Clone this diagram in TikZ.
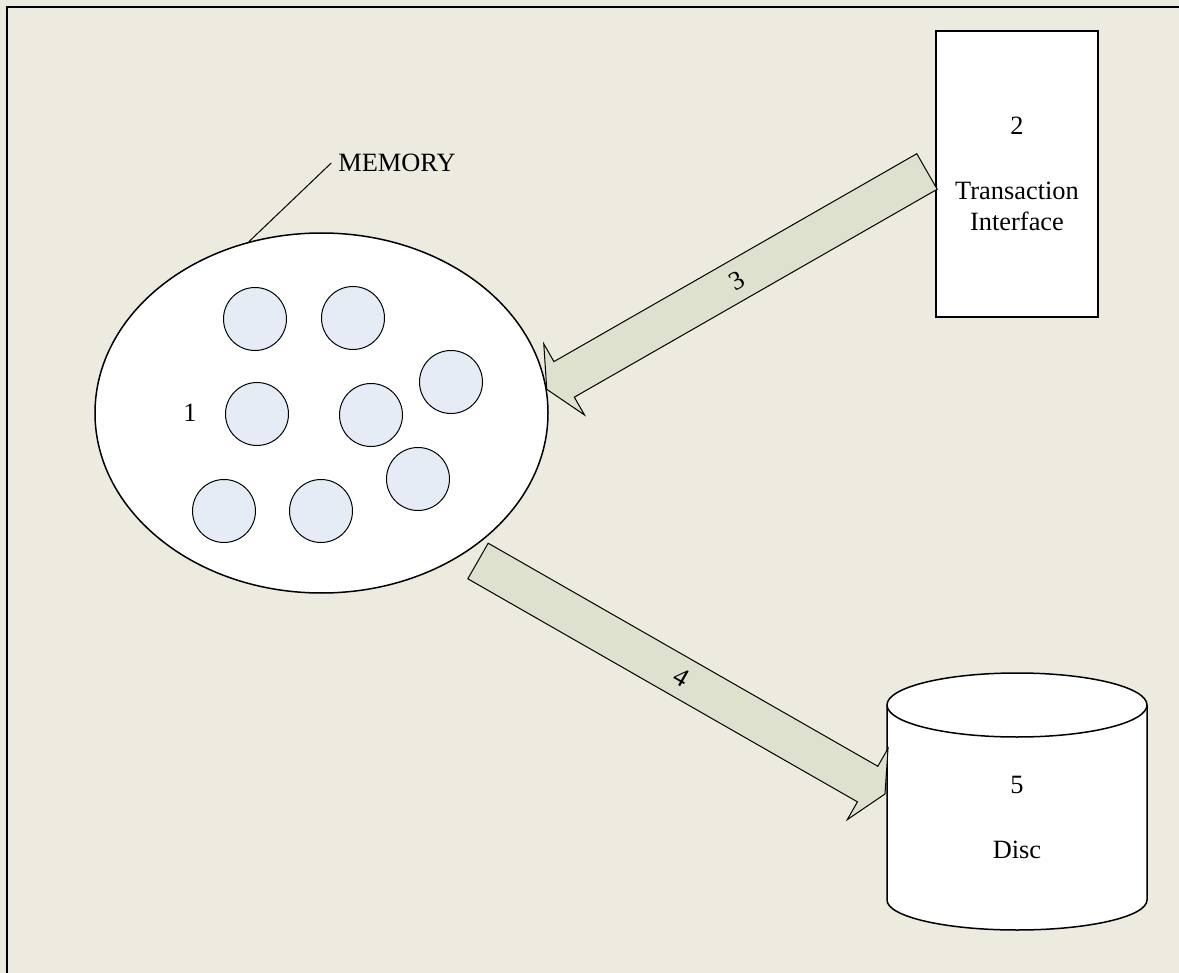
\documentclass[tikz,border=0pt]{standalone}
\usepackage{fontspec}
\setmainfont{Liberation Serif}
\usetikzlibrary{positioning,calc,shapes.geometric}
\definecolor{paper}{RGB}{237,234,224}
\definecolor{cellblue}{RGB}{230,236,246}
\definecolor{arrowgreen}{RGB}{221,225,205}

% fat block arrow: tail, tip, name of head base
\newcommand{\fatarrow}[3]{%
  \coordinate (#3) at ($(#2)!10pt!(#1)$);
  \draw[blockarrow] ($(#1)!10.25pt!90:(#2)$) -- ($(#3)!10.25pt!90:(#2)$)
    -- ($(#3)!20.5pt!90:(#2)$) -- (#2) -- ($(#3)!20.5pt!-90:(#2)$)
    -- ($(#3)!10.25pt!-90:(#2)$) -- ($(#1)!10.25pt!-90:(#2)$) -- cycle;}

\begin{document}
\begin{tikzpicture}[x=0.5pt, y=-0.5pt,
  every node/.style={font=\fontsize{13.2}{15.5}\selectfont},
  memory/.style={ellipse, draw, fill=white, line width=.75pt, inner sep=0pt, minimum width=226.5pt, minimum height=180pt},
  cell/.style={circle, draw, fill=cellblue, line width=.5pt, inner sep=0pt, minimum size=31.5pt},
  box/.style={draw, fill=white, line width=.75pt, align=center, minimum width=81pt, minimum height=143pt},
  blockarrow/.style={draw, fill=arrowgreen, line width=.5pt, line join=miter}]
\useasboundingbox (0,0) rectangle (1179,973);
\fill[paper] (0,0) rectangle (1179,973);
\draw[line width=1pt] (7,973) -- (7,7) -- (1179,7);

% memory with its cells
\node[memory] (memory) at (321.5,413) {};
\foreach \cx/\cy [count=\i] in {255/319, 353/318, 451/382, 257/414, 371/415, 418/479, 224/511, 321/511}
  \node[cell] (cell\i) at (\cx,\cy) {};
\node (one) at (190,413) {1};
\node (memlabel) at (397,163) {MEMORY};
\draw[line width=.5pt] (memlabel.west) -- (memory.113);

% transaction interface
\node[box] (trans) at (1017,174) {2\\[17pt]Transaction\\Interface};

% disc
\draw[fill=white, line width=.75pt] (887,705) -- (887,900)
  arc[start angle=180, end angle=0, x radius=130, y radius=30] -- (1147,705)
  arc[start angle=0, end angle=-180, x radius=130, y radius=32] -- cycle;
\draw[line width=.75pt] (887,705) arc[start angle=180, end angle=0, x radius=130, y radius=32];
\node[align=center] (disc) at (1017,817) {5\\[17pt]Disc};

% arrows
\coordinate (tail3) at (927,171.5);
\coordinate (tail4) at (478,561);
\coordinate (tip4) at (885,794);
\fatarrow{tail3}{memory.6}{base3}
\fatarrow{tail4}{tip4}{base4}
\path (tail3) -- node[sloped] (lbl3) {3} (memory.6);
\path (tail4) -- node[sloped] (lbl4) {4} (tip4);
\end{tikzpicture}
\end{document}
